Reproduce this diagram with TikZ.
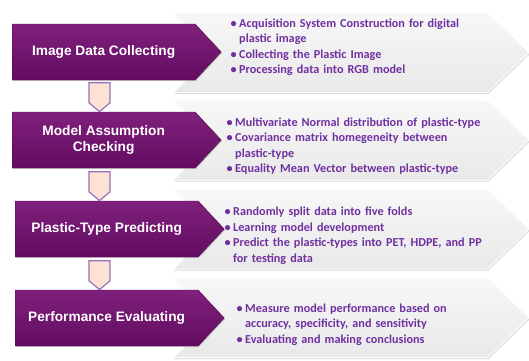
\documentclass[tikz,border=0pt]{standalone}
\usepackage{fontspec}
\setmainfont{Carlito}
\newfontfamily\stepfont{Liberation Sans}
\usetikzlibrary{positioning, calc, shapes.symbols, shadows}

\definecolor{stepdark}{RGB}{98,12,96}
\definecolor{steplight}{RGB}{128,32,124}
\definecolor{itemtext}{RGB}{112,48,160}
\definecolor{linkfill}{RGB}{252,225,212}
\definecolor{linkdraw}{RGB}{150,112,186}
\definecolor{paneltop}{RGB}{247,247,247}
\definecolor{panelbottom}{RGB}{233,233,233}

% one bullet line of a panel, wrapped lines hang under the text
\newcommand{\bitem}[1]{\par\hangindent=8.5pt\hangafter=1\noindent\makebox[8.5pt][l]{\textbullet}#1\par}

\tikzset{
  stepbox/.style={shape=signal, signal to=east, signal pointer angle=94,
    minimum width=209pt, minimum height=56pt, inner sep=0pt, anchor=west,
    top color=steplight, bottom color=stepdark, draw=stepdark!85!black,
    line width=0.4pt, text=white, align=center,
    font=\stepfont\bfseries\fontsize{13.7}{16}\selectfont,
    drop shadow={shadow xshift=0.8pt, shadow yshift=-1.2pt, opacity=0.35}},
  panel/.style={shape=signal, signal from=west, signal to=east,
    signal pointer angle=88, minimum width=356pt, minimum height=80pt,
    inner sep=0pt, top color=paneltop, bottom color=panelbottom,
    draw=white, line width=1pt,
    drop shadow={shadow xshift=0.8pt, shadow yshift=-1.5pt, opacity=0.3}},
  link/.style={shape=signal, signal to=south, signal pointer angle=100,
    minimum width=21pt, minimum height=20pt, inner sep=0pt, anchor=north,
    fill=linkfill, draw=linkdraw, line width=1.2pt},
  items/.style={anchor=north west, inner sep=0pt, text width=300pt,
    text=itemtext, font=\bfseries\fontsize{12.2}{15.5}\selectfont}
}

\begin{document}
\begin{tikzpicture}[x=1pt, y=-1pt]

  \useasboundingbox (0,0) rectangle (529,360);

  % grey panels behind the steps

  \node[panel] (panel1) at (351,52.5) {};
  \node[panel] (panel2) at (351,140) {};
  \node[panel] (panel3) at (351,229) {};
  \node[panel] (panel4) at (351,317.5) {};

  % purple steps

  \node[stepbox] (step1) at (12,52) {Image Data Collecting};
  \node[stepbox] (step2) at (12,140) {Model Assumption\\Checking};
  \node[stepbox] (step3) at (15,229) {Plastic-Type Predicting};
  \node[stepbox] (step4) at (15,318) {Performance Evaluating};

  % links between the steps

  \node[link] (link12) at ($(step1.south west)+(87.5,2)$) {};
  \node[link] (link23) at ($(step2.south west)+(87.5,3)$) {};
  \node[link] (link34) at ($(step3.south west)+(84.5,3)$) {};

  % panel texts

  \node[items] (items1) at (230.5,11.5) {
    \raggedright
    \bitem{Acquisition System Construction for digital\newline plastic image}
    \bitem{Collecting the Plastic Image}
    \bitem{Processing data into RGB model}
  };
  \node[items] (items2) at (226.5,110.5) {
    \raggedright
    \bitem{Multivariate Normal distribution of plastic-type}
    \bitem{Covariance matrix homegeneity between\newline plastic-type}
    \bitem{Equality Mean Vector between plastic-type}
  };
  \node[items] (items3) at (224.5,200) {
    \raggedright
    \bitem{Randomly split data into five folds}
    \bitem{Learning model development}
    \bitem{Predict the plastic-types into PET, HDPE, and PP\newline for testing data}
  };
  \node[items] (items4) at (236.5,296.5) {
    \raggedright
    \bitem{Measure model performance based on\newline accuracy, specificity, and sensitivity}
    \bitem{Evaluating and making conclusions}
  };

\end{tikzpicture}
\end{document}
